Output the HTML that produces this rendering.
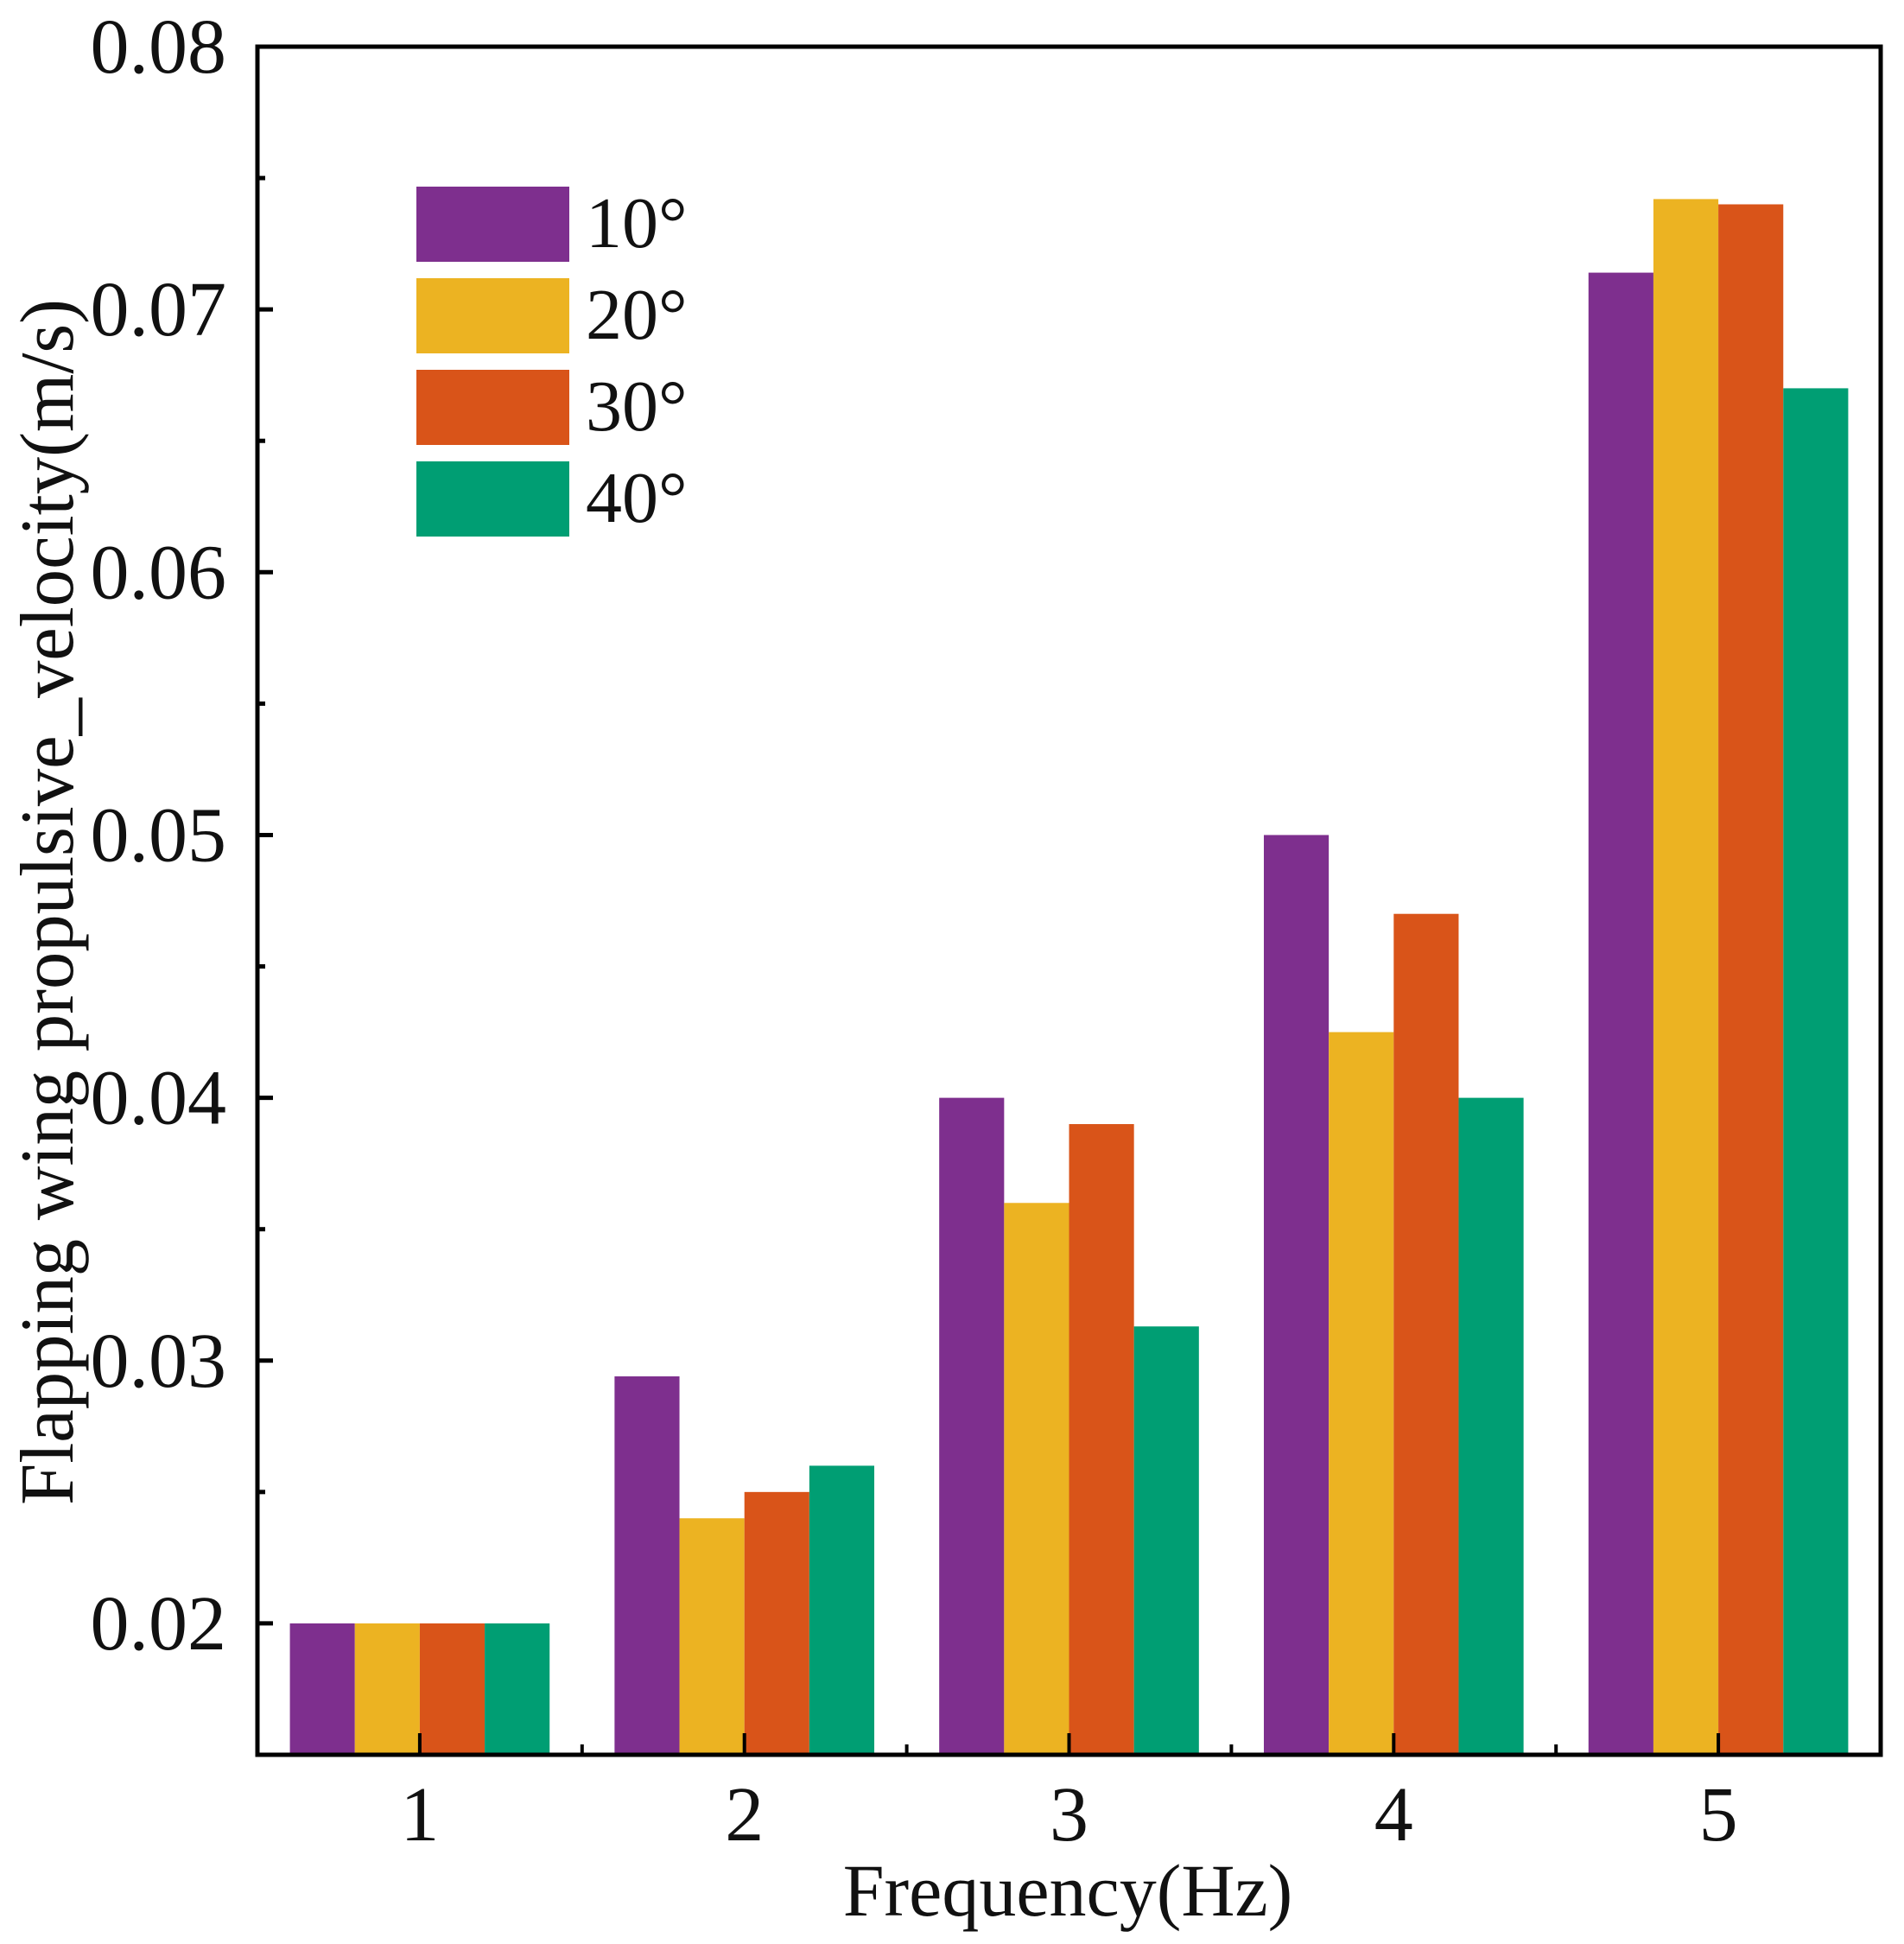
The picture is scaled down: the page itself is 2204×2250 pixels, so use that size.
<!DOCTYPE html>
<html><head><meta charset="utf-8">
<style>
html,body{margin:0;padding:0;background:#fff;}
svg{display:block;}
text{font-family:"Liberation Serif","DejaVu Serif",serif;fill:#111;}
</style></head>
<body>
<svg id="chart" width="2204" height="2250" viewBox="0 0 2204 2250" xmlns="http://www.w3.org/2000/svg">
<rect x="0" y="0" width="2204" height="2250" fill="#fff"/>
<g id="bars"></g>
<g id="axes"></g>
<g id="legend"></g>
<text x="1236" y="2217" font-size="86" text-anchor="middle">Frequency(Hz)</text>
<text transform="translate(84,1044) rotate(-90)" x="0" y="0" font-size="88" text-anchor="middle" textLength="1396" lengthAdjust="spacingAndGlyphs">Flapping wing propulsive_velocity(m/s)</text>
</svg>
<script>
const categories = [1, 2, 3, 4, 5];
const seriesNames = ["10°", "20°", "30°", "40°"];
const s10 = [0.020, 0.0294, 0.040, 0.050, 0.0714];
const s20 = [0.020, 0.024, 0.036, 0.0425, 0.0742];
const s30 = [0.020, 0.025, 0.039, 0.047, 0.0740];
const s40 = [0.020, 0.026, 0.0313, 0.040, 0.0670];
const yTicks = [0.02, 0.03, 0.04, 0.05, 0.06, 0.07, 0.08];
const yTickLabels = ["0.02", "0.03", "0.04", "0.05", "0.06", "0.07", "0.08"];
const xTickLabels = ["1", "2", "3", "4", "5"];

const colors = ["#7e2f8e", "#ecb322", "#d95419", "#009e73"];
const series = [s10, s20, s30, s40];
const L = 298, R = 2177, T = 54, B = 2031;
const xMin = 0.5, xMax = 5.5, yMin = 0.015, yMax = 0.08;
function xs(v){ return L + (v - xMin) / (xMax - xMin) * (R - L); }
function ys(v){ return B - (v - yMin) / (yMax - yMin) * (B - T); }
const NS = "http://www.w3.org/2000/svg";
function mk(tag, attrs, parent){
  const e = document.createElementNS(NS, tag);
  for (const k in attrs) e.setAttribute(k, attrs[k]);
  parent.appendChild(e);
  return e;
}
const gb = document.getElementById("bars");
const ga = document.getElementById("axes");
const gl = document.getElementById("legend");
const groupW = 0.8;
const bw = groupW / series.length;
series.forEach((s, si) => {
  s.forEach((v, ci) => {
    const x0 = xs(categories[ci] - groupW / 2 + si * bw);
    const x1 = xs(categories[ci] - groupW / 2 + (si + 1) * bw);
    const r = mk("rect", {x: x0, y: ys(v), width: x1 - x0, height: B - ys(v), fill: colors[si]}, gb);
    
    
  });
});
const fr = mk("rect", {x: L, y: T, width: R - L, height: B - T, fill: "none", stroke: "#000", "stroke-width": 5}, ga);


yTicks.forEach((t, i) => {
  const y = ys(t);
  const tk = mk("line", {x1: L, x2: L + 18, y1: y, y2: y, stroke: "#000", "stroke-width": 5}, ga);
  
  
  if (i < yTicks.length - 1) {
    const ym = ys(t + 0.005);
    const mt = mk("line", {x1: L, x2: L + 9, y1: ym, y2: ym, stroke: "#000", "stroke-width": 5}, ga);
    
    
  }
  const lb = mk("text", {x: 262, y: y + 30, "font-size": 90, "text-anchor": "end"}, ga);
  lb.textContent = yTickLabels[i];
  
  
});
categories.forEach((c, i) => {
  const x = xs(c);
  const tk = mk("line", {x1: x, x2: x, y1: B, y2: B - 25, stroke: "#000", "stroke-width": 4}, ga);
  
  
  if (i < categories.length - 1) {
    const xm = xs(c + 0.5);
    const mt = mk("line", {x1: xm, x2: xm, y1: B, y2: B - 12, stroke: "#000", "stroke-width": 4}, ga);
    
    
  }
  const lb = mk("text", {x: x, y: 2130, "font-size": 90, "text-anchor": "middle"}, ga);
  lb.textContent = xTickLabels[i];
  
  
});
const legY = [216, 322, 428, 534];
seriesNames.forEach((n, i) => {
  const sw = mk("rect", {x: 482, y: legY[i], width: 177, height: 87, fill: colors[i]}, gl);
  
  
  const t = mk("text", {x: 678, y: legY[i] + 70, "font-size": 84}, gl);
  t.textContent = n;
  
  
});
</script>
</body></html>
